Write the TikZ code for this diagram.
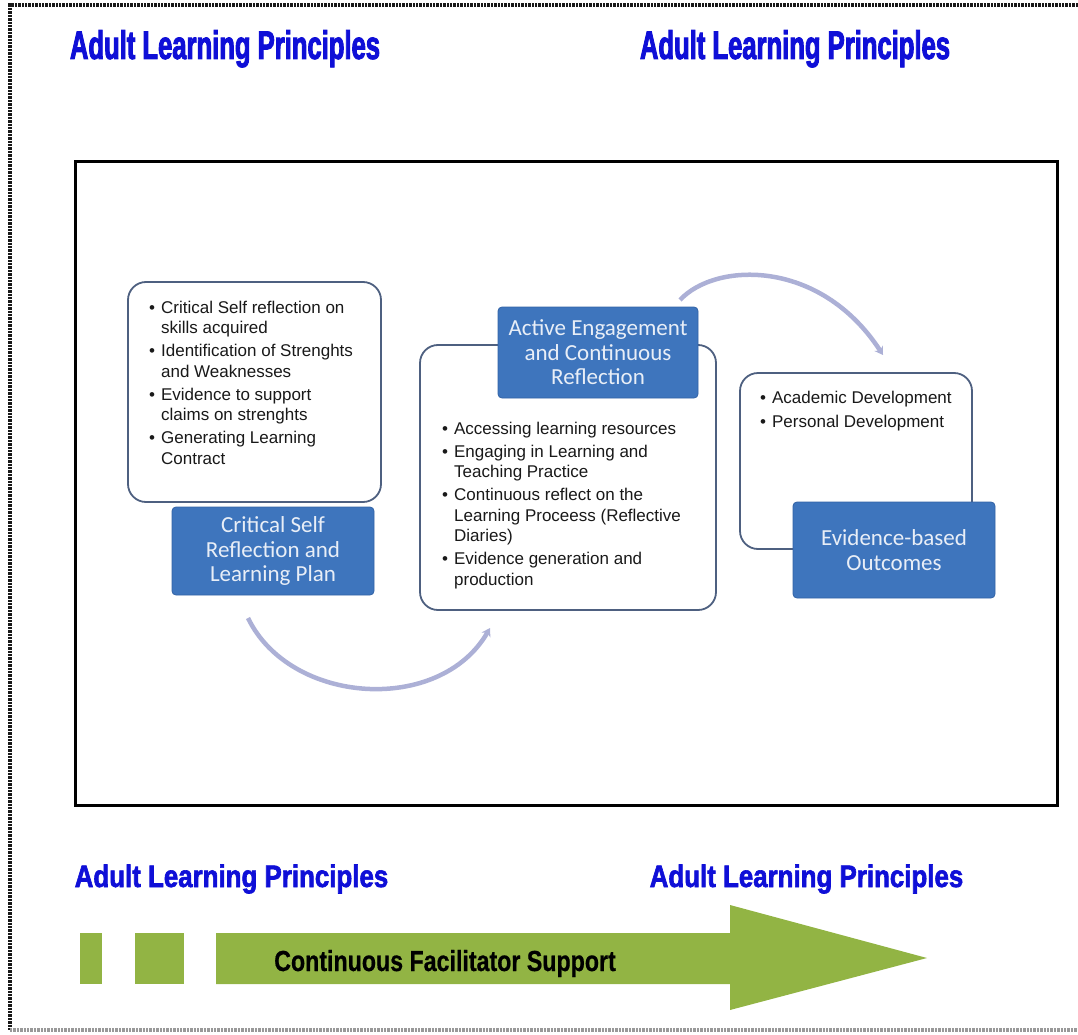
\documentclass[tikz,border=0pt]{standalone}
\usepackage{fontspec}
\usetikzlibrary{arrows.meta}
\setmainfont{Liberation Sans}
\newfontfamily\boxfont{Carlito}
\newfontfamily\headfont{Liberation Sans Bold}[FakeStretch=0.64, FakeBold=2.2]
\newfontfamily\headfontlow{Liberation Sans Bold}[FakeStretch=0.835, FakeBold=2]
\newfontfamily\bandfont{Liberation Sans Bold}[FakeStretch=0.80, FakeBold=0.6]

\definecolor{headblue}{RGB}{15,15,215}
\definecolor{stepblue}{RGB}{62,117,189}
\definecolor{stepedge}{RGB}{50,98,165}
\definecolor{frameslate}{RGB}{78,96,128}
\definecolor{cyclearc}{RGB}{172,176,214}
\definecolor{supportgreen}{RGB}{146,180,68}
\definecolor{bodytext}{RGB}{25,25,25}

\tikzset{
  headline/.style={text=headblue, anchor=base, inner sep=0pt,
    font=\headfont\fontsize{40}{44}\selectfont},
  headlinelow/.style={text=headblue, anchor=base, inner sep=0pt,
    font=\headfontlow\fontsize{31}{34}\selectfont},
  listbox/.style={draw=frameslate, line width=1.8pt, rounded corners=18pt,
    fill=white, inner sep=0pt},
  stepbox/.style={draw=stepedge, line width=0.8pt, fill=stepblue, rounded corners=4pt,
    text=white!88!stepblue, align=center, inner sep=0pt,
    font=\boxfont\fontsize{23}{24.5}\selectfont},
  bullets/.style={anchor=north west, inner sep=0pt, text=bodytext,
    font=\fontsize{17}{20.5}\selectfont},
  cyclearrow/.style={draw=cyclearc, line width=4.5pt,
    -{Stealth[length=8pt,width=10pt]}},
  outerline/.style={line width=3.2pt, dash pattern=on 2.4pt off 1pt}
}

\begin{document}
\begin{tikzpicture}[x=1pt,y=-1pt]
\useasboundingbox (0,0) rectangle (1078,1035);

% dotted page border (top, left, bottom)
\draw[outerline, black!90] (1078,5) -- (10,5) -- (10,1030);
\draw[outerline, black!40] (10,1030) -- (1078,1030);

% headings
\node[headline] (h1) at (225,59) {Adult Learning Principles};
\node[headline] (h2) at (795,59) {Adult Learning Principles};
\node[headlinelow] (h3) at (231.5,887) {Adult Learning Principles};
\node[headlinelow] (h4) at (806.5,887) {Adult Learning Principles};

% framed cycle
\draw[line width=3pt, black] (75,162) rectangle (1057,805);

% white list boxes
\node[listbox, minimum width=253pt, minimum height=220pt] (b1) at (254.5,392) {};
\node[listbox, minimum width=296pt, minimum height=265pt] (b2) at (568,477.5) {};
\node[listbox, minimum width=232pt, minimum height=176pt] (b3) at (856,461) {};

% blue step labels
\node[stepbox, minimum width=202pt, minimum height=88pt] (s1) at (273,551)
  {Critical Self\\Reflection and\\Learning Plan};
\node[stepbox, minimum width=200pt, minimum height=91pt] (s2) at (598,352.5)
  {Active Engagement\\and Continuous\\Reflection};
\node[stepbox, minimum width=202pt, minimum height=96pt] (s3) at (894,550)
  {Evidence-based\\Outcomes};

% bullet lists
\node[bullets] (t1) at (149,298.6) {\begin{tabular}{@{}l@{\hspace{6pt}}l@{}}
\textbullet & Critical Self reflection on\\
            & skills acquired\\[2.5pt]
\textbullet & Identification of Strenghts\\
            & and Weaknesses\\[2.5pt]
\textbullet & Evidence to support\\
            & claims on strenghts\\[2.5pt]
\textbullet & Generating Learning\\
            & Contract
\end{tabular}};

\node[bullets] (t2) at (442,419.6) {\begin{tabular}{@{}l@{\hspace{6pt}}l@{}}
\textbullet & Accessing learning resources\\[2.5pt]
\textbullet & Engaging in Learning and\\
            & Teaching Practice\\[2.5pt]
\textbullet & Continuous reflect on the\\
            & Learning Proceess (Reflective\\
            & Diaries)\\[2.5pt]
\textbullet & Evidence generation and\\
            & production
\end{tabular}};

\node[bullets] (t3) at (760,388.6) {\begin{tabular}{@{}l@{\hspace{6pt}}l@{}}
\textbullet & Academic Development\\[3.5pt]
\textbullet & Personal Development
\end{tabular}};

% cycle arcs between the steps
\coordinate (a1s) at (248,618);
\coordinate (a1e) at (490,628);
\coordinate (a2s) at (680,300);
\coordinate (a2e) at (883,355);
\draw[cyclearrow] (a1s) .. controls (290,705) and (440,715) .. (a1e);
\draw[cyclearrow] (a2s) .. controls (715,262) and (820,258) .. (a2e);

% support band along the bottom
\fill[supportgreen] (80,933) rectangle (102,984);
\fill[supportgreen] (135,933) rectangle (184,984);
\fill[supportgreen] (216,933) -- (730,933) -- (730,905) -- (927,958)
  -- (730,1010) -- (730,984) -- (216,984) -- cycle;
\node[anchor=base, inner sep=0pt, text=black,
  font=\bandfont\fontsize{29}{32}\selectfont] (band) at (445,971)
  {Continuous Facilitator Support};
\end{tikzpicture}
\end{document}
